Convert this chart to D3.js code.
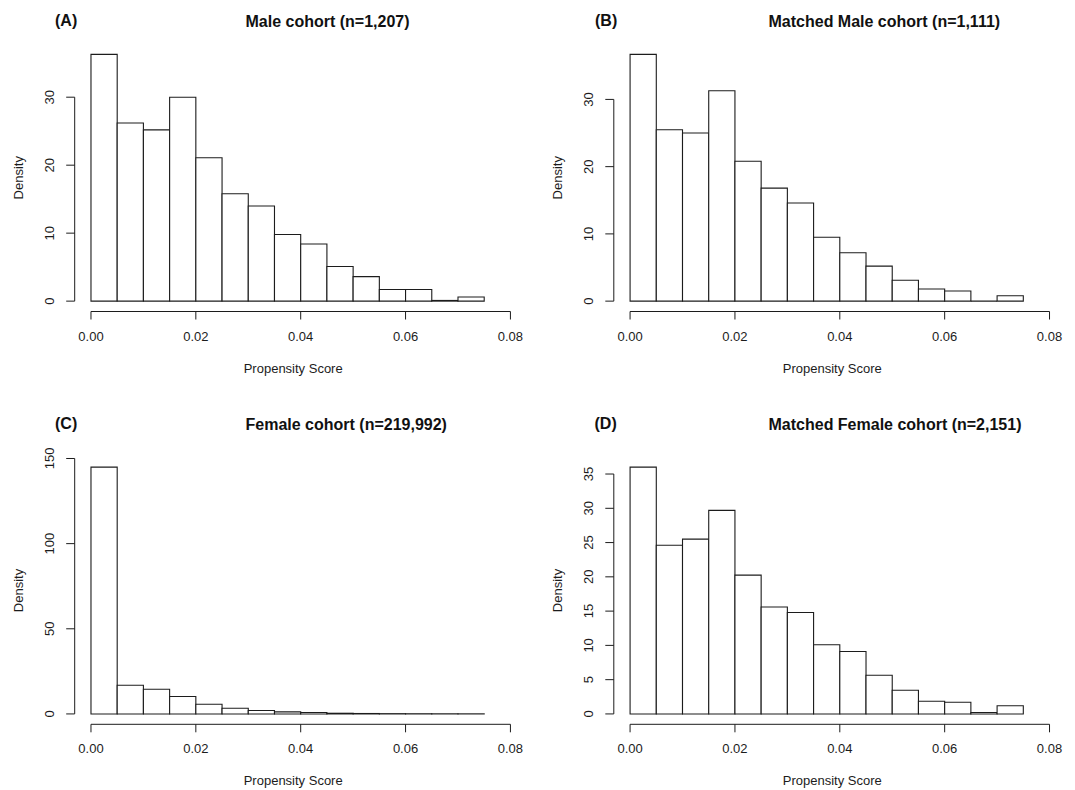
<!DOCTYPE html>
<html>
<head>
<meta charset="utf-8">
<script src="https://cdn.jsdelivr.net/npm/d3@7"></script>
<style>
  body { margin: 0; background: #fff; }
  svg { display: block; font-family: "Liberation Sans", Arial, Helvetica, sans-serif; }
</style>
</head>
<body>
<svg id="chart" width="1075" height="790"></svg>
<script>
// ---------------------------------------------------------------------------
// Data: histogram densities (bin width 0.005)
// ---------------------------------------------------------------------------
const breaks = [0, 0.005, 0.01, 0.015, 0.02, 0.025, 0.03, 0.035, 0.04, 0.045,
  0.05, 0.055, 0.06, 0.065, 0.07, 0.075];
const xTicks = [0, 0.02, 0.04, 0.06, 0.08];

const maleDensity = [36.3, 26.2, 25.2, 30.0, 21.1, 15.8, 14.0, 9.8, 8.4, 5.1, 3.6, 1.7, 1.7, 0.1, 0.6];
const matchedMaleDensity = [36.7, 25.5, 25.0, 31.3, 20.8, 16.8, 14.6, 9.5, 7.2, 5.2, 3.1, 1.8, 1.5, 0, 0.8];
const femaleDensity = [144.9, 16.8, 14.5, 10.2, 5.7, 3.3, 2.0, 1.2, 0.8, 0.4, 0.25, 0.15, 0.1, 0.07, 0.05];
const matchedFemaleDensity = [36.0, 24.6, 25.5, 29.7, 20.25, 15.6, 14.8, 10.1, 9.1, 5.65, 3.46, 1.85, 1.7, 0.2, 1.2];

const yTicksMale = [0, 10, 20, 30];
const yTicksMatchedMale = [0, 10, 20, 30];
const yTicksFemale = [0, 50, 100, 150];
const yTicksMatchedFemale = [0, 5, 10, 15, 20, 25, 30, 35];

const panelTags = ["(A)", "(B)", "(C)", "(D)"];
const panelTitles = [
  "Male cohort (n=1,207)",
  "Matched Male cohort (n=1,111)",
  "Female cohort (n=219,992)",
  "Matched Female cohort (n=2,151)",
];
const xLabel = "Propensity Score";
const yLabel = "Density";

// ---------------------------------------------------------------------------
// Layout (plot regions measured from the reference)
// ---------------------------------------------------------------------------
const INK = "#1c1c1c";
const panels = [
  { values: maleDensity, yTicks: yTicksMale, left: 74.2, top: 44.5, titleX: 245.5, tagX: 55, tagY: 20, titleY: 21.7 },
  { values: matchedMaleDensity, yTicks: yTicksMatchedMale, left: 613.3, top: 44.5, titleX: 768.5, tagX: 595, tagY: 20, titleY: 21.7 },
  { values: femaleDensity, yTicks: yTicksFemale, left: 74.2, top: 457.3, titleX: 245.5, tagX: 55, tagY: 423.5, titleY: 424.3 },
  { values: matchedFemaleDensity, yTicks: yTicksMatchedFemale, left: 613.3, top: 457.3, titleX: 768.5, tagX: 594.5, tagY: 423.5, titleY: 424.3 },
];
const regionW = 453;
const regionH = 266.5;

const svg = d3.select("#chart");

panels.forEach((p, i) => {
  const right = p.left + regionW;
  const bottom = p.top + regionH;
  const ymax = d3.max(p.values);

  // R-style 4% axis extension
  const x = d3.scaleLinear().domain([-0.0032, 0.0832]).range([p.left, right]);
  const y = d3.scaleLinear().domain([-0.04 * ymax, 1.04 * ymax]).range([bottom, p.top]);

  const g = svg.append("g");

  // bars
  const bins = p.values.map((v, j) => ({ x0: breaks[j], x1: breaks[j + 1], v }));
  g.selectAll("path.bar")
    .data(bins)
    .join("path")
    .attr("class", "bar")
    .attr("d", d => `M${x(d.x0)},${y(0)}V${y(d.v)}H${x(d.x1)}V${y(0)}Z`)
    .attr("fill", "#fff")
    .attr("stroke", INK)
    .attr("stroke-width", 1.1);

  // x axis
  const xa = g.append("g");
  xa.append("line")
    .attr("x1", x(xTicks[0])).attr("x2", x(xTicks[xTicks.length - 1]))
    .attr("y1", bottom + 0.5).attr("y2", bottom + 0.5)
    .attr("stroke", INK);
  xa.selectAll("line.tick")
    .data(xTicks)
    .join("line")
    .attr("class", "tick")
    .attr("x1", d => x(d)).attr("x2", d => x(d))
    .attr("y1", bottom + 0.5).attr("y2", bottom + 8.5)
    .attr("stroke", INK);
  xa.selectAll("text")
    .data(xTicks)
    .join("text")
    .attr("x", d => x(d))
    .attr("y", bottom + 25)
    .attr("dy", "0.35em")
    .attr("text-anchor", "middle")
    .attr("font-size", 13)
    .attr("fill", INK)
    .text(d => d3.format(".2f")(d));

  // y axis
  const ya = g.append("g");
  const yt = p.yTicks;
  ya.append("line")
    .attr("x1", p.left + 0.5).attr("x2", p.left + 0.5)
    .attr("y1", y(yt[0])).attr("y2", y(yt[yt.length - 1]))
    .attr("stroke", INK);
  ya.selectAll("line.tick")
    .data(yt)
    .join("line")
    .attr("class", "tick")
    .attr("x1", p.left - 8).attr("x2", p.left + 0.5)
    .attr("y1", d => y(d)).attr("y2", d => y(d))
    .attr("stroke", INK);
  ya.selectAll("text")
    .data(yt)
    .join("text")
    .attr("transform", d => `translate(${p.left - 24.5},${y(d)}) rotate(-90)`)
    .attr("dy", "0.35em")
    .attr("text-anchor", "middle")
    .attr("font-size", 13)
    .attr("fill", INK)
    .text(d => d);

  // axis titles
  g.append("text")
    .attr("x", p.left + 219)
    .attr("y", bottom + 57)
    .attr("dy", "0.35em")
    .attr("text-anchor", "middle")
    .attr("font-size", 13)
    .attr("fill", INK)
    .text(xLabel);
  g.append("text")
    .attr("transform", `translate(${p.left - 56},${(p.top + bottom) / 2}) rotate(-90)`)
    .attr("dy", "0.35em")
    .attr("text-anchor", "middle")
    .attr("font-size", 13)
    .attr("fill", INK)
    .text(yLabel);

  // panel tag and title
  g.append("text")
    .attr("x", p.tagX)
    .attr("y", p.tagY)
    .attr("dy", "0.35em")
    .attr("font-size", 16)
    .attr("font-weight", "bold")
    .attr("fill", "#111")
    .text(panelTags[i]);
  g.append("text")
    .attr("x", p.titleX)
    .attr("y", p.titleY)
    .attr("dy", "0.35em")
    .attr("font-size", 16)
    .attr("font-weight", "bold")
    .attr("fill", "#111")
    .text(panelTitles[i]);
});
</script>
</body>
</html>
